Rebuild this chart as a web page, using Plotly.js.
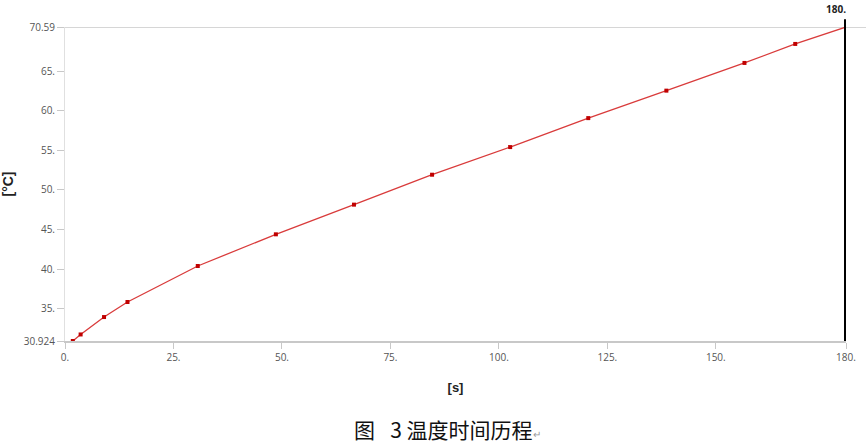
<!DOCTYPE html>
<html>
<head>
<meta charset="utf-8">
<script src="https://cdn.plot.ly/plotly-3.0.1.min.js"></script>
<style>html,body{margin:0;padding:0;background:#fff;}#chart{width:866px;height:448px;}</style>
</head>
<body>
<div id="chart"></div>
<script>
const timeS = [1.8, 3.6, 9, 14.4, 30.6, 48.6, 66.6, 84.6, 102.6, 120.6, 138.6, 156.6, 168.3, 180];
const tempC = [30.924, 31.75, 33.95, 35.85, 40.4, 44.4, 48.15, 51.93, 55.42, 59.08, 62.55, 66.05, 68.45, 70.59];
const yTickVals = [30.924, 35, 40, 45, 50, 55, 60, 65, 70.59];
const yTickText = ['30.924', '35.', '40.', '45.', '50.', '55.', '60.', '65.', '70.59'];
const xTickVals = [0, 25, 50, 75, 100, 125, 150, 180];
const xTickText = ['0.', '25.', '50.', '75.', '100.', '125.', '150.', '180.'];
const markerTime = 180;
const caption = '图\u2002\u00a03\u00a0温度时间历程';

const trace = {
  x: timeS, y: tempC, type: 'scatter', mode: 'lines+markers',
  line: {color: '#d93b3b', width: 1.3},
  marker: {color: '#c00000', size: 4, symbol: 'square'},
  hoverinfo: 'x+y'
};

const tickFont = {family: 'Open Sans, DejaVu Sans, sans-serif', size: 10, color: '#555'};

const layout = {
  width: 866, height: 448,
  margin: {l: 65, r: 20, t: 27, b: 107},
  paper_bgcolor: '#fff', plot_bgcolor: '#fff',
  showlegend: false,
  xaxis: {
    range: [0, 180], tickvals: xTickVals, ticktext: xTickText,
    showgrid: false, zeroline: false,
    showline: true, linecolor: '#c8c8c8', linewidth: 1.5,
    ticks: 'outside', ticklen: 6, tickcolor: '#c8c8c8', tickwidth: 1,
    tickfont: tickFont, automargin: false,
    title: {text: '<b>[s]</b>', font: {family: 'Liberation Sans, Arial, sans-serif', size: 13, color: '#222'}, standoff: 20}
  },
  yaxis: {
    range: [30.924, 70.59], tickvals: yTickVals, ticktext: yTickText,
    showgrid: false, zeroline: false,
    showline: true, linecolor: '#e0e0e0', linewidth: 1,
    ticks: 'outside', ticklen: 7, tickcolor: '#c8c8c8', tickwidth: 1,
    tickfont: tickFont, automargin: false,
    title: {text: '<b>[°C]</b>', font: {family: 'Liberation Sans, Arial, sans-serif', size: 14, color: '#222'}, standoff: 7}
  },
  shapes: [
    {type: 'line', xref: 'paper', yref: 'y', x0: -0.01, x1: 1.03, y0: 70.59, y1: 70.59,
     line: {color: '#c8c8c8', width: 1.5}, layer: 'below'},
    {type: 'line', xref: 'x', yref: 'paper', x0: markerTime, x1: markerTime, y0: 0, y1: 1.025,
     line: {color: '#000', width: 4}}
  ],
  annotations: [
    {xref: 'x', yref: 'paper', x: markerTime, xshift: 2, y: 1.03, text: '<b>180.</b>', showarrow: false,
     xanchor: 'right', yanchor: 'bottom', font: {family: 'Open Sans, DejaVu Sans, sans-serif', size: 10, color: '#222'}},
    {xref: 'paper', yref: 'paper', x: 0.49, y: -0.28, text: caption + '<span style="font-size:10px;color:#999">↵</span>',
     showarrow: false, xanchor: 'center', yanchor: 'middle',
     font: {family: 'Noto Sans CJK SC, sans-serif', size: 21, color: '#111'}}
  ]
};

Plotly.newPlot('chart', [trace], layout, {displayModeBar: false, staticPlot: true});
</script>
</body>
</html>
